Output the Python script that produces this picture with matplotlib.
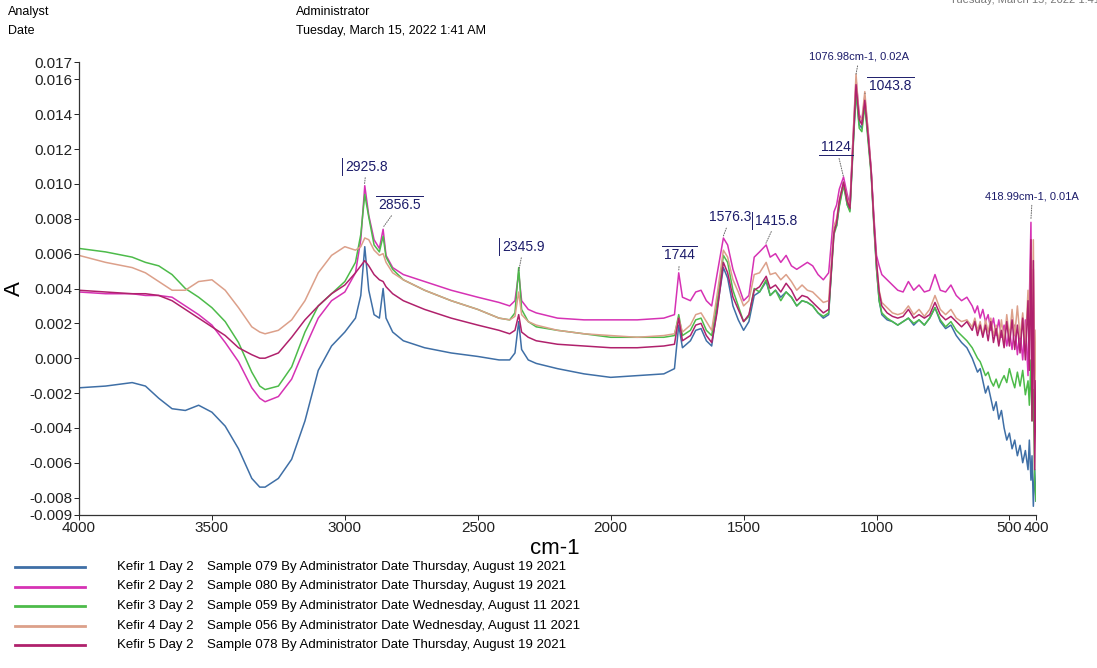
import matplotlib

matplotlib.use("Agg")
import matplotlib.pyplot as plt  # noqa: E402
from matplotlib.lines import Line2D  # noqa: E402
from matplotlib.text import Text  # noqa: E402
from matplotlib.transforms import IdentityTransform  # noqa: E402

plt.rcParams["font.family"] = ["Liberation Sans", "DejaVu Sans"]
plt.rcParams["axes.unicode_minus"] = False

# wavenumber (cm-1) sample points
WAVENUMBER = [
    4000, 3900, 3800, 3750, 3700, 3650, 3600, 3550, 3500, 3450, 3400, 3350, 3320, 3300, 3250, 3200, 3150, 3100, 3050, 3000,
    2960, 2940, 2925, 2910, 2890, 2870, 2856, 2845, 2820, 2780, 2700, 2600, 2500, 2420, 2380, 2360, 2346, 2335, 2310, 2280,
    2200, 2100, 2000, 1900, 1800, 1760, 1744, 1730, 1700, 1680, 1660, 1640, 1620, 1600, 1576, 1560, 1540, 1520, 1500, 1480,
    1460, 1440, 1415, 1400, 1380, 1360, 1340, 1320, 1300, 1280, 1260, 1240, 1220, 1200, 1180, 1160, 1150, 1140, 1124, 1110,
    1100, 1090, 1077, 1065, 1055, 1044, 1030, 1020, 1010, 1000, 990, 980, 960, 940, 920, 900, 880, 860, 840, 820,
    800, 780, 760, 740, 720, 700, 680, 660, 640, 630, 620, 610, 600, 590, 580, 570, 560, 550, 540, 530,
    520, 510, 500, 490, 480, 470, 460, 450, 440, 430, 425, 419, 415, 410, 405, 400,
]

KEFIR_1 = [
    -0.0017, -0.0016, -0.0014, -0.0016, -0.0023, -0.0029, -0.0030, -0.0027, -0.0031, -0.0039, -0.0052, -0.0069, -0.0074, -0.0074, -0.0069, -0.0058, -0.0036, -0.0007, 0.0007, 0.0015,
    0.0023, 0.0036, 0.0064, 0.0039, 0.0025, 0.0023, 0.0040, 0.0023, 0.0015, 0.0010, 0.0006, 0.0003, 0.0001, -0.0001, -0.0001, 0.0003, 0.0021, 0.0005, -0.0001, -0.0003,
    -0.0006, -0.0009, -0.0011, -0.0010, -0.0009, -0.0006, 0.0019, 0.0006, 0.0010, 0.0016, 0.0017, 0.0010, 0.0007, 0.0028, 0.0052, 0.0046, 0.0030, 0.0022, 0.0016, 0.0021,
    0.0036, 0.0038, 0.0044, 0.0036, 0.0039, 0.0035, 0.0038, 0.0035, 0.0030, 0.0033, 0.0032, 0.0030, 0.0026, 0.0023, 0.0025, 0.0075, 0.0076, 0.0088, 0.0101, 0.0088,
    0.0085, 0.0117, 0.0153, 0.0134, 0.0132, 0.0148, 0.0124, 0.0107, 0.0078, 0.0052, 0.0033, 0.0025, 0.0022, 0.0021, 0.0019, 0.0021, 0.0023, 0.0019, 0.0022, 0.0019,
    0.0023, 0.0029, 0.0021, 0.0017, 0.0019, 0.0013, 0.0009, 0.0006, 0.0000, -0.0004, -0.0008, -0.0006, -0.0013, -0.0020, -0.0016, -0.0023, -0.0030, -0.0025, -0.0035, -0.0030,
    -0.0040, -0.0047, -0.0043, -0.0052, -0.0047, -0.0056, -0.0050, -0.0060, -0.0053, -0.0064, -0.0047, -0.0070, -0.0056, -0.0085, -0.0064, -0.0082,
]

KEFIR_2 = [
    0.0038, 0.0037, 0.0037, 0.0036, 0.0036, 0.0035, 0.0030, 0.0025, 0.0019, 0.0009, -0.0002, -0.0017, -0.0023, -0.0025, -0.0022, -0.0012, 0.0006, 0.0023, 0.0033, 0.0038,
    0.0049, 0.0068, 0.0099, 0.0082, 0.0068, 0.0063, 0.0074, 0.0059, 0.0052, 0.0048, 0.0044, 0.0039, 0.0035, 0.0032, 0.0030, 0.0033, 0.0049, 0.0033, 0.0028, 0.0026,
    0.0023, 0.0022, 0.0022, 0.0022, 0.0023, 0.0025, 0.0049, 0.0035, 0.0033, 0.0038, 0.0039, 0.0033, 0.0030, 0.0048, 0.0069, 0.0065, 0.0051, 0.0042, 0.0033, 0.0036,
    0.0058, 0.0061, 0.0065, 0.0058, 0.0060, 0.0055, 0.0059, 0.0053, 0.0051, 0.0053, 0.0055, 0.0053, 0.0048, 0.0045, 0.0049, 0.0084, 0.0088, 0.0097, 0.0104, 0.0094,
    0.0088, 0.0121, 0.0160, 0.0140, 0.0136, 0.0150, 0.0128, 0.0108, 0.0082, 0.0059, 0.0053, 0.0048, 0.0045, 0.0042, 0.0039, 0.0038, 0.0044, 0.0039, 0.0042, 0.0038,
    0.0039, 0.0048, 0.0039, 0.0038, 0.0042, 0.0036, 0.0033, 0.0035, 0.0030, 0.0026, 0.0030, 0.0023, 0.0028, 0.0021, 0.0025, 0.0016, 0.0023, 0.0013, 0.0022, 0.0012,
    0.0019, 0.0007, 0.0016, 0.0005, 0.0019, 0.0002, 0.0016, -0.0001, 0.0022, -0.0010, 0.0033, 0.0078, -0.0018, 0.0051, -0.0036, -0.0013,
]

KEFIR_3 = [
    0.0063, 0.0061, 0.0058, 0.0055, 0.0053, 0.0048, 0.0040, 0.0035, 0.0029, 0.0021, 0.0009, -0.0008, -0.0016, -0.0018, -0.0016, -0.0005, 0.0015, 0.0030, 0.0037, 0.0044,
    0.0055, 0.0071, 0.0094, 0.0081, 0.0065, 0.0061, 0.0070, 0.0058, 0.0051, 0.0045, 0.0039, 0.0033, 0.0028, 0.0023, 0.0022, 0.0026, 0.0052, 0.0028, 0.0021, 0.0018,
    0.0016, 0.0014, 0.0012, 0.0012, 0.0012, 0.0013, 0.0025, 0.0013, 0.0016, 0.0022, 0.0023, 0.0016, 0.0013, 0.0032, 0.0059, 0.0055, 0.0039, 0.0030, 0.0021, 0.0024,
    0.0040, 0.0038, 0.0045, 0.0036, 0.0039, 0.0033, 0.0038, 0.0035, 0.0030, 0.0033, 0.0032, 0.0030, 0.0026, 0.0024, 0.0026, 0.0071, 0.0076, 0.0087, 0.0099, 0.0088,
    0.0084, 0.0114, 0.0153, 0.0132, 0.0130, 0.0145, 0.0122, 0.0105, 0.0076, 0.0051, 0.0033, 0.0026, 0.0023, 0.0021, 0.0019, 0.0021, 0.0023, 0.0020, 0.0022, 0.0019,
    0.0023, 0.0029, 0.0022, 0.0018, 0.0021, 0.0016, 0.0013, 0.0010, 0.0006, 0.0003, 0.0000, -0.0002, -0.0006, -0.0010, -0.0008, -0.0013, -0.0016, -0.0012, -0.0017, -0.0013,
    -0.0010, -0.0014, -0.0006, -0.0012, -0.0017, -0.0008, -0.0016, -0.0007, -0.0021, -0.0013, -0.0027, -0.0001, -0.0036, -0.0018, -0.0070, -0.0082,
]

KEFIR_4 = [
    0.0059, 0.0055, 0.0052, 0.0049, 0.0044, 0.0039, 0.0039, 0.0044, 0.0045, 0.0039, 0.0029, 0.0018, 0.0015, 0.0014, 0.0016, 0.0022, 0.0033, 0.0049, 0.0059, 0.0064,
    0.0062, 0.0064, 0.0069, 0.0068, 0.0062, 0.0059, 0.0060, 0.0055, 0.0049, 0.0045, 0.0039, 0.0033, 0.0028, 0.0023, 0.0022, 0.0024, 0.0038, 0.0025, 0.0021, 0.0019,
    0.0016, 0.0014, 0.0013, 0.0012, 0.0013, 0.0014, 0.0023, 0.0015, 0.0019, 0.0025, 0.0026, 0.0021, 0.0016, 0.0036, 0.0062, 0.0058, 0.0045, 0.0038, 0.0030, 0.0033,
    0.0048, 0.0049, 0.0055, 0.0048, 0.0049, 0.0045, 0.0048, 0.0044, 0.0039, 0.0042, 0.0039, 0.0038, 0.0035, 0.0032, 0.0033, 0.0076, 0.0080, 0.0091, 0.0101, 0.0091,
    0.0087, 0.0121, 0.0163, 0.0138, 0.0137, 0.0153, 0.0127, 0.0108, 0.0079, 0.0055, 0.0039, 0.0032, 0.0029, 0.0026, 0.0025, 0.0026, 0.0030, 0.0025, 0.0028, 0.0024,
    0.0028, 0.0036, 0.0028, 0.0025, 0.0028, 0.0023, 0.0021, 0.0022, 0.0018, 0.0023, 0.0016, 0.0021, 0.0013, 0.0022, 0.0015, 0.0023, 0.0013, 0.0019, 0.0010, 0.0022,
    0.0009, 0.0025, 0.0012, 0.0028, 0.0013, 0.0030, 0.0012, 0.0026, 0.0007, 0.0039, 0.0010, 0.0062, 0.0005, 0.0068, -0.0024, 0.0016,
]

KEFIR_5 = [
    0.0039, 0.0038, 0.0037, 0.0037, 0.0036, 0.0033, 0.0028, 0.0023, 0.0018, 0.0013, 0.0006, 0.0002, 0.0000, 0.0000, 0.0003, 0.0012, 0.0022, 0.0030, 0.0037, 0.0042,
    0.0049, 0.0053, 0.0056, 0.0053, 0.0048, 0.0045, 0.0044, 0.0041, 0.0037, 0.0033, 0.0028, 0.0023, 0.0019, 0.0016, 0.0014, 0.0016, 0.0025, 0.0015, 0.0012, 0.0010,
    0.0008, 0.0007, 0.0006, 0.0006, 0.0007, 0.0008, 0.0023, 0.0010, 0.0013, 0.0019, 0.0020, 0.0013, 0.0009, 0.0026, 0.0055, 0.0049, 0.0035, 0.0028, 0.0021, 0.0025,
    0.0039, 0.0041, 0.0047, 0.0040, 0.0042, 0.0038, 0.0043, 0.0039, 0.0033, 0.0036, 0.0035, 0.0032, 0.0029, 0.0026, 0.0028, 0.0072, 0.0078, 0.0090, 0.0101, 0.0090,
    0.0086, 0.0117, 0.0157, 0.0137, 0.0134, 0.0148, 0.0125, 0.0107, 0.0079, 0.0055, 0.0038, 0.0030, 0.0026, 0.0024, 0.0023, 0.0024, 0.0028, 0.0023, 0.0025, 0.0023,
    0.0025, 0.0032, 0.0025, 0.0022, 0.0024, 0.0021, 0.0018, 0.0021, 0.0016, 0.0021, 0.0013, 0.0019, 0.0012, 0.0019, 0.0010, 0.0021, 0.0009, 0.0017, 0.0007, 0.0016,
    0.0006, 0.0021, 0.0007, 0.0022, 0.0005, 0.0019, 0.0003, 0.0023, -0.0001, 0.0033, -0.0007, 0.0068, -0.0036, 0.0056, -0.0064, -0.0013,
]

SERIES = [KEFIR_1, KEFIR_2, KEFIR_3, KEFIR_4, KEFIR_5]
SERIES_NAMES = ["Kefir 1 Day 2", "Kefir 2 Day 2", "Kefir 3 Day 2", "Kefir 4 Day 2", "Kefir 5 Day 2"]
SAMPLE_INFO = [
    "Sample 079 By Administrator Date Thursday, August 19 2021",
    "Sample 080 By Administrator Date Thursday, August 19 2021",
    "Sample 059 By Administrator Date Wednesday, August 11 2021",
    "Sample 056 By Administrator Date Wednesday, August 11 2021",
    "Sample 078 By Administrator Date Thursday, August 19 2021",
]
COLORS = ["#3f6fa6", "#d632b4", "#4dbb4a", "#dca08a", "#b0216c"]

X_TICKS = [4000, 3500, 3000, 2500, 2000, 1500, 1000, 500, 400]
Y_TICKS = [-0.009, -0.008, -0.006, -0.004, -0.002, 0.0, 0.002, 0.004, 0.006,
           0.008, 0.010, 0.012, 0.014, 0.016, 0.017]

# label, peak position, text anchor (left, centre), bar side, font size
PEAK_LABELS = [
    ("2925.8", 2925.8, 0.0100, 2999, 0.0110, "left", 10),
    ("2856.5", 2856.5, 0.0075, 2875, 0.0088, "over", 10),
    ("2345.9", 2345.9, 0.0050, 2408, 0.0064, "left", 10),
    ("1744", 1744.0, 0.0050, 1798, 0.0059, "over", 10),
    ("1576.3", 1576.3, 0.0070, 1629, 0.0081, None, 10),
    ("1415.8", 1415.8, 0.0066, 1456, 0.0079, "left", 10),
    ("1124", 1124.0, 0.0104, 1207, 0.0121, "under", 10),
    ("1043.8", 1043.8, 0.0152, 1027, 0.0156, "over", 10),
    ("1076.98cm-1, 0.02A", 1077.0, 0.0163, 1253, 0.0173, None, 8),
    ("418.99cm-1, 0.01A", 419.0, 0.0080, 590, 0.0093, None, 8),
]
LABEL_COLOR = "#1c1c6a"

W, H = 1097, 668
fig = plt.figure(figsize=(W / 100, H / 100), dpi=100)
ax = fig.add_axes([79 / W, 1 - 515 / H, (1036 - 79) / W, (515 - 62) / H])

for values, color in zip(SERIES, COLORS):
    ax.plot(WAVENUMBER, values, color=color, lw=1.1)

ax.set_xlim(4000, 400)
ax.set_ylim(-0.009, 0.017)
ax.set_xticks(X_TICKS)
ax.set_xticklabels([str(t) for t in X_TICKS])
ax.set_yticks(Y_TICKS)
ax.set_yticklabels([f"{t:.3f}" for t in Y_TICKS])
ax.tick_params(direction="out", length=3.5, width=0.7, labelsize=11, colors="#222222", pad=1)
for side in ("top", "right"):
    ax.spines[side].set_visible(False)
for side in ("left", "bottom"):
    ax.spines[side].set_linewidth(0.9)
    ax.spines[side].set_color("#333333")

ax.set_ylabel("A", fontsize=16, rotation=90)
ax.yaxis.set_label_coords(-0.056, 0.50)
ax.set_xlabel("cm-1", fontsize=16)
ax.xaxis.set_label_coords(0.497, -0.050)

texts = []
for label, px, py, tx, ty, bar, size in PEAK_LABELS:
    t = ax.annotate(
        label, xy=(px, py), xytext=(tx, ty), textcoords="data",
        ha="left", va="center", fontsize=size, color=LABEL_COLOR,
        annotation_clip=False,
        arrowprops=dict(arrowstyle="-", linestyle=(0, (1, 1.5)), color="#666666",
                        lw=0.7, shrinkA=1, shrinkB=0),
    )
    texts.append((t, bar))

# header
fig.text(8 / W, 1 - 12 / H, "Analyst", fontsize=9, va="center")
fig.text(8 / W, 1 - 31 / H, "Date", fontsize=9, va="center")
fig.text(296 / W, 1 - 12 / H, "Administrator", fontsize=9, va="center")
fig.text(296 / W, 1 - 31 / H, "Tuesday, March 15, 2022 1:41 AM", fontsize=9, va="center")
fig.text(950 / W, 1 - 3 / H, "Tuesday, March 15, 2022 1:41 AM", fontsize=8,
         va="baseline", color="#777777")

# legend drawn as rows under the plot
for i, (name, info, color) in enumerate(zip(SERIES_NAMES, SAMPLE_INFO, COLORS)):
    y = 1 - (567 + i * 19.5) / H
    fig.add_artist(Line2D([15 / W, 85 / W], [y, y], color=color, lw=2.0,
                          transform=fig.transFigure))
    fig.text(117 / W, y, name, fontsize=9.5, va="center")
    fig.text(207 / W, y, info, fontsize=9.5, va="center")

# small bars next to the peak labels (text box only, not the leader)
fig.canvas.draw()
renderer = fig.canvas.get_renderer()
for t, bar in texts:
    if bar is None:
        continue
    bb = Text.get_window_extent(t, renderer)
    if bar == "left":
        xs, ys = [bb.x0 - 3, bb.x0 - 3], [bb.y0 - 1, bb.y1 + 2]
    elif bar == "over":
        xs, ys = [bb.x0 - 2, bb.x1 + 2], [bb.y1 + 2, bb.y1 + 2]
    else:
        xs, ys = [bb.x0 - 2, bb.x1 + 2], [bb.y0 - 1, bb.y0 - 1]
    fig.add_artist(Line2D(xs, ys, color=LABEL_COLOR, lw=0.7,
                          transform=IdentityTransform()))

fig.savefig("out.png", dpi=100)
